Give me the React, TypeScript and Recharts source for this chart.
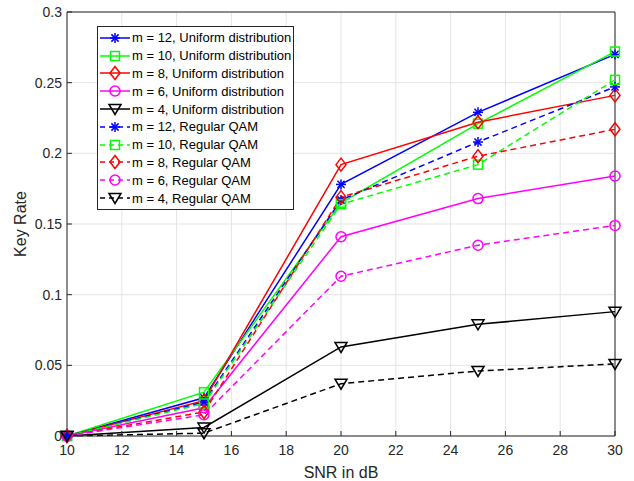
import { LineChart, Line, XAxis, YAxis, CartesianGrid, ReferenceLine } from 'recharts';

const SNR = [10, 15, 20, 25, 30];
const X_TICKS = [10, 12, 14, 16, 18, 20, 22, 24, 26, 28, 30];
const Y_TICKS = [0, 0.05, 0.1, 0.15, 0.2, 0.25, 0.3];

const UNI_12 = [0, 0.027, 0.178, 0.229, 0.27];
const UNI_10 = [0, 0.031, 0.165, 0.221, 0.272];
const UNI_8 = [0, 0.025, 0.192, 0.222, 0.241];
const UNI_6 = [0, 0.02, 0.141, 0.168, 0.184];
const UNI_4 = [0, 0.006, 0.063, 0.079, 0.088];
const QAM_12 = [0, 0.024, 0.167, 0.208, 0.247];
const QAM_10 = [0, 0.023, 0.164, 0.192, 0.252];
const QAM_8 = [0, 0.017, 0.169, 0.198, 0.217];
const QAM_6 = [0, 0.015, 0.113, 0.135, 0.149];
const QAM_4 = [0, 0.002, 0.037, 0.046, 0.051];

type Marker = 'star' | 'square' | 'diamond' | 'circle' | 'tri';

const SERIES: { key: string; name: string; values: number[]; color: string; marker: Marker; dashed: boolean }[] = [
  { key: 'u12', name: 'm = 12, Uniform distribution', values: UNI_12, color: '#0000ff', marker: 'star', dashed: false },
  { key: 'u10', name: 'm = 10, Uniform distribution', values: UNI_10, color: '#00ff00', marker: 'square', dashed: false },
  { key: 'u8', name: 'm = 8, Uniform distribution', values: UNI_8, color: '#ff0000', marker: 'diamond', dashed: false },
  { key: 'u6', name: 'm = 6, Uniform distribution', values: UNI_6, color: '#ff00ff', marker: 'circle', dashed: false },
  { key: 'u4', name: 'm = 4, Uniform distribution', values: UNI_4, color: '#000000', marker: 'tri', dashed: false },
  { key: 'q12', name: 'm = 12, Regular QAM', values: QAM_12, color: '#0000ff', marker: 'star', dashed: true },
  { key: 'q10', name: 'm = 10, Regular QAM', values: QAM_10, color: '#00ff00', marker: 'square', dashed: true },
  { key: 'q8', name: 'm = 8, Regular QAM', values: QAM_8, color: '#ff0000', marker: 'diamond', dashed: true },
  { key: 'q6', name: 'm = 6, Regular QAM', values: QAM_6, color: '#ff00ff', marker: 'circle', dashed: true },
  { key: 'q4', name: 'm = 4, Regular QAM', values: QAM_4, color: '#000000', marker: 'tri', dashed: true },
];

const data = SNR.map((snr, i) => {
  const row: Record<string, number> = { snr };
  SERIES.forEach((s) => {
    row[s.key] = s.values[i];
  });
  return row;
});

const markerShape = (m: Marker, cx: number, cy: number, color: string, k?: string) => {
  const sw = 1.5;
  switch (m) {
    case 'star':
      return (
        <g key={k} stroke={color} strokeWidth={sw}>
          <line x1={cx - 5} y1={cy} x2={cx + 5} y2={cy} />
          <line x1={cx} y1={cy - 5} x2={cx} y2={cy + 5} />
          <line x1={cx - 3.6} y1={cy - 3.6} x2={cx + 3.6} y2={cy + 3.6} />
          <line x1={cx - 3.6} y1={cy + 3.6} x2={cx + 3.6} y2={cy - 3.6} />
        </g>
      );
    case 'square':
      return <rect key={k} x={cx - 4.5} y={cy - 4.5} width={9} height={9} fill="none" stroke={color} strokeWidth={sw} />;
    case 'diamond':
      return (
        <polygon key={k} points={`${cx},${cy - 6.5} ${cx + 5},${cy} ${cx},${cy + 6.5} ${cx - 5},${cy}`} fill="none" stroke={color} strokeWidth={sw} />
      );
    case 'circle':
      return <circle key={k} cx={cx} cy={cy} r={5} fill="none" stroke={color} strokeWidth={sw} />;
    default:
      return (
        <polygon key={k} points={`${cx - 6},${cy - 4.5} ${cx + 6},${cy - 4.5} ${cx},${cy + 5.5}`} fill="none" stroke={color} strokeWidth={sw} />
      );
  }
};

const LegendBox = () => (
  <div
    style={{
      position: 'absolute',
      left: 97,
      top: 26,
      border: '1px solid #262626',
      background: '#fff',
      padding: '2px 2px 2px 1px',
      fontFamily: 'Liberation Sans, Arial, sans-serif',
      fontSize: 13,
      color: '#000',
    }}
  >
    {SERIES.map((s) => (
      <div key={s.key} style={{ display: 'flex', alignItems: 'center', height: 17.8 }}>
        <svg width={32} height={16} style={{ marginRight: 1 }}>
          <line
            x1={1}
            y1={8}
            x2={31}
            y2={8}
            stroke={s.color}
            strokeWidth={1.5}
            strokeDasharray={s.dashed ? '5 4' : undefined}
          />
          {markerShape(s.marker, 16, 8, s.color)}
        </svg>
        <span>{s.name}</span>
      </div>
    ))}
  </div>
);

const tickStyle = { fill: '#262626', fontSize: 14, fontFamily: 'Liberation Sans, Arial, sans-serif' };

const App = () => (
  <div style={{ position: 'absolute', left: 0, top: 0, width: 634, height: 481, background: '#fff' }}>
    <LineChart width={634} height={481} data={data} margin={{ top: 12, right: 19, bottom: 0, left: 0 }}>
      <CartesianGrid stroke="#e5e5e5" strokeWidth={1} />
      <XAxis
        dataKey="snr"
        type="number"
        domain={[10, 30]}
        ticks={X_TICKS}
        tick={tickStyle}
        tickLine={{ stroke: '#262626' }}
        tickSize={-5}
        tickMargin={14}
        axisLine={{ stroke: '#262626' }}
        height={45}
        label={{ value: 'SNR in dB', position: 'insideBottom', offset: 3, style: { ...tickStyle, fontSize: 16 } }}
      />
      <YAxis
        type="number"
        domain={[0, 0.3]}
        ticks={Y_TICKS}
        tickFormatter={(v: number) => String(v)}
        tick={tickStyle}
        tickLine={{ stroke: '#262626' }}
        tickSize={-5}
        tickMargin={10}
        axisLine={{ stroke: '#262626' }}
        width={67}
        label={{ value: 'Key Rate', angle: -90, position: 'insideLeft', offset: 20, style: { ...tickStyle, fontSize: 16, textAnchor: 'middle' } }}
      />
      <ReferenceLine y={0.3} stroke="#262626" />
      <ReferenceLine x={30} stroke="#262626" />
      {SERIES.map((s) => (
        <Line
          key={s.key}
          dataKey={s.key}
          name={s.name}
          stroke={s.color}
          strokeWidth={1.5}
          strokeDasharray={s.dashed ? '6 4' : undefined}
          isAnimationActive={false}
          dot={(p: any) => markerShape(s.marker, p.cx, p.cy, s.color, `${s.key}-${p.index}`)}
          activeDot={false}
        />
      ))}
    </LineChart>
    <LegendBox />
  </div>
);

export default App;
